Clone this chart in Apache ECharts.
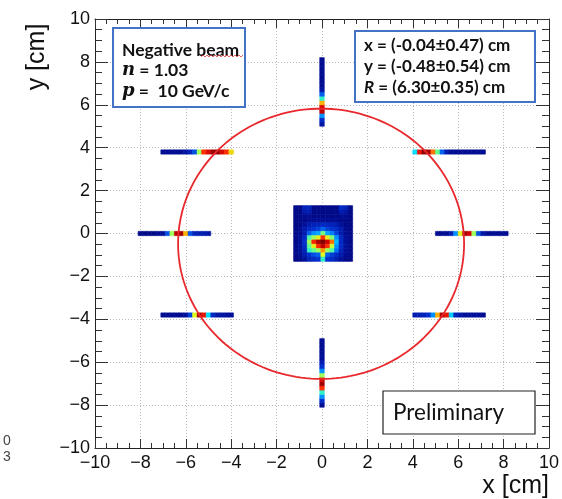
<!DOCTYPE html>
<html>
<head>
<meta charset="utf-8">
<script src="https://cdn.jsdelivr.net/npm/echarts@6/dist/echarts.min.js"></script>
<style>
  html, body { margin: 0; padding: 0; background: #fff; }
  #chart { width: 562px; height: 499px; }
</style>
</head>
<body>
<div id="chart"></div>
<script>
// bin width of the hit map, cm
var BIN = 0.2;

// central beam spot, rows from y = +1.2 down to y = -1.2, columns x = -1.15 ... +1.25
var spotX0 = -1.15;
var spotY0 = 1.2;
var spotRows = [
  [6, 6, 16, 16, 6, 6, 6, 6, 6, 6, 18, 16, 6],
  [6, 6, 14, 14, 6, 6, 6, 6, 6, 6, 14, 12, 6],
  [5, 6, 8, 8, 6, 6, 6, 6, 6, 6, 8, 8, 5],
  [5, 6, 6, 8, 8, 8, 8, 8, 8, 8, 6, 6, 5],
  [5, 6, 10, 14, 16, 16, 18, 16, 16, 14, 10, 6, 5],
  [5, 8, 14, 18, 20, 22, 26, 22, 20, 18, 14, 8, 5],
  [6, 8, 14, 26, 32, 34, 52, 34, 30, 22, 14, 8, 6],
  [6, 10, 18, 48, 55, 62, 80, 62, 52, 32, 18, 10, 6],
  [6, 10, 20, 55, 82, 95, 100, 90, 75, 36, 18, 10, 6],
  [6, 10, 18, 50, 62, 82, 92, 80, 58, 32, 18, 10, 6],
  [6, 10, 16, 45, 50, 55, 72, 55, 48, 28, 16, 10, 6],
  [6, 8, 14, 20, 24, 26, 60, 26, 22, 18, 14, 8, 6],
  [5, 6, 10, 16, 18, 20, 45, 20, 18, 14, 10, 6, 5]
];

// ring detector bars (16 bins each, listed from the first bin centre onward)
var barUpperLeft  = [8, 8, 8, 8, 8, 12, 16, 24, 55, 80, 88, 96, 98, 88, 80, 65];
var barMidLeft    = [6, 6, 6, 6, 8, 10, 24, 55, 92, 96, 70, 24, 16, 14, 14, 12];
var barLowerLeft  = [8, 8, 8, 8, 8, 10, 22, 60, 95, 85, 40, 18, 12, 12, 10, 10];
var barUpperRight = [40, 85, 98, 95, 75, 50, 26, 14, 8, 8, 8, 8, 8, 8, 8, 8];
var barMidRight   = [8, 8, 8, 14, 32, 62, 96, 90, 55, 24, 12, 8, 8, 8, 8, 8];
var barLowerRight = [14, 14, 16, 20, 32, 70, 95, 85, 38, 16, 12, 10, 10, 10, 10, 8];
var barTop        = [12, 18, 32, 92, 88, 70, 45, 26, 12, 8, 8, 8, 8, 8, 8, 8];
var barBottom     = [8, 18, 32, 45, 80, 96, 88, 55, 32, 20, 14, 10, 8, 8, 8, 8];

// first bin centre [x, y] and direction of each bar
var barList = [
  [-7.0, 3.8, "x", barUpperLeft],
  [-8.0, 0.0, "x", barMidLeft],
  [-7.0, -3.8, "x", barLowerLeft],
  [4.1, 3.8, "x", barUpperRight],
  [5.1, 0.0, "x", barMidRight],
  [4.1, -3.8, "x", barLowerRight],
  [0.0, 5.1, "y", barTop],
  [0.0, -8.0, "y", barBottom]
];

// circle fit: centre x, centre y, radius (cm)
var fitCircle = [-0.04, -0.48, 6.30];

var heatColors = ["#000070", "#00109a", "#0030d0", "#0080ff", "#00e0ff", "#60ff90", "#e0ff20", "#ffb000", "#ff3000", "#d00000", "#800000"];

(function () {
  var chart = echarts.init(document.getElementById("chart"), null, { renderer: "canvas" });

  var cells = [];
  spotRows.forEach(function (row, j) {
    row.forEach(function (v, i) {
      cells.push([spotX0 + i * BIN, spotY0 - j * BIN, v]);
    });
  });
  barList.forEach(function (b) {
    b[3].forEach(function (v, i) {
      if (b[2] === "x") cells.push([b[0] + i * BIN, b[1], v]);
      else cells.push([b[0], b[1] + i * BIN, v]);
    });
  });

  function renderBin(params, api) {
    var x = api.value(0), y = api.value(1);
    var p0 = api.coord([x - BIN / 2, y + BIN / 2]);
    var p1 = api.coord([x + BIN / 2, y - BIN / 2]);
    var c = api.visual("color");
    return {
      type: "rect",
      shape: { x: p0[0], y: p0[1], width: p1[0] - p0[0], height: p1[1] - p0[1] },
      style: { fill: c, stroke: c, lineWidth: 0.6 }
    };
  }

  function renderCircle(params, api) {
    var cx = api.value(0), cy = api.value(1), r = api.value(2);
    var pts = [];
    for (var k = 0; k <= 180; k++) {
      var a = (k / 180) * Math.PI * 2;
      pts.push(api.coord([cx + r * Math.cos(a), cy + r * Math.sin(a)]));
    }
    return {
      type: "polyline",
      shape: { points: pts },
      style: { stroke: "#e8282d", lineWidth: 1.8, fill: null }
    };
  }

  var minus = function (v) { return String(v).replace("-", "\u2212"); };
  var font = "Liberation Sans";

  function axisBase(extra) {
    var base = {
      type: "value", min: -10, max: 10, interval: 2,
      axisLine: { show: true, onZero: false, lineStyle: { color: "#222", width: 1 } },
      splitLine: { show: false },
      minorTick: { show: true, splitNumber: 4, length: 5, lineStyle: { color: "#333" } },
      axisTick: { show: true, inside: true, length: 9, lineStyle: { color: "#333" } },
      axisLabel: { show: false }
    };
    return Object.assign(base, extra);
  }

  chart.setOption({
    animation: false,
    backgroundColor: "#fff",
    grid: { left: 95, top: 19, width: 454, height: 429, containLabel: false },
    xAxis: [
      axisBase({
        position: "bottom",
        splitLine: { show: true, lineStyle: { color: "#b8b8b8", type: [1, 2], width: 1 } },
        axisLabel: { show: true, formatter: minus, fontSize: 18, color: "#111", fontFamily: font, margin: 6 }
      }),
      axisBase({ position: "top" })
    ],
    yAxis: [
      axisBase({
        position: "left",
        axisTick: { show: true, inside: true, length: 13, lineStyle: { color: "#333" } },
        minorTick: { show: true, splitNumber: 4, length: 7, lineStyle: { color: "#333" } },
        splitLine: { show: true, lineStyle: { color: "#b8b8b8", type: [1, 2], width: 1 } },
        axisLabel: { show: true, formatter: minus, fontSize: 18, color: "#111", fontFamily: font, margin: 5 }
      }),
      axisBase({
        position: "right",
        axisTick: { show: true, inside: true, length: 13, lineStyle: { color: "#333" } },
        minorTick: { show: true, splitNumber: 4, length: 7, lineStyle: { color: "#333" } }
      })
    ],
    visualMap: {
      show: false, seriesIndex: 0, dimension: 2, min: 0, max: 100,
      inRange: { color: heatColors }
    },
    series: [
      {
        type: "custom", name: "hits", renderItem: renderBin,
        xAxisIndex: 0, yAxisIndex: 0,
        encode: { x: 0, y: 1 }, data: cells, z: 2
      },
      {
        type: "custom", name: "fit", renderItem: renderCircle,
        xAxisIndex: 0, yAxisIndex: 0, clip: true,
        encode: { x: 0, y: 1 }, data: [fitCircle], z: 3
      }
    ],
    graphic: [
      // axis titles
      { type: "text", x: 37, y: 57, rotation: Math.PI / 2,
        style: { text: "y [cm]", font: "25px " + font, fill: "#111", textAlign: "center", textVerticalAlign: "middle" } },
      { type: "text", x: 549, y: 486,
        style: { text: "x [cm]", font: "25px " + font, fill: "#111", textAlign: "right", textVerticalAlign: "middle" } },
      // clipped text at the left edge
      { type: "text", x: 3, y: 434, style: { text: "0", font: "14px " + font, fill: "#444" } },
      { type: "text", x: 3, y: 450, style: { text: "3", font: "14px " + font, fill: "#444" } },
      // beam box
      { type: "rect", z: 10, shape: { x: 113, y: 28, width: 132, height: 79 },
        style: { fill: "#fff", stroke: "#4472c4", lineWidth: 2 } },
      { type: "text", z: 11, x: 122, y: 50,
        style: { text: "Negative beam", font: "bold 17.5px Lato", fill: "#111", textVerticalAlign: "middle" } },
      { type: "polyline", z: 11,
        shape: { points: [[201, 57], [203, 55], [205, 57], [207, 55], [209, 57], [211, 55], [213, 57], [215, 55], [217, 57], [219, 55], [221, 57], [223, 55], [225, 57], [227, 55], [229, 57], [231, 55], [233, 57], [235, 55], [237, 57], [239, 55], [241, 57], [243, 55]] },
        style: { stroke: "#e04040", lineWidth: 0.8, fill: null } },
      { type: "text", z: 11, x: 122, y: 70,
        style: { text: "{i|n} = 1.03", textVerticalAlign: "middle",
          rich: { i: { font: "italic bold 18px 'DejaVu Serif'", fill: "#111" } },
          font: "bold 17.5px Lato", fill: "#111" } },
      { type: "text", z: 11, x: 122, y: 91,
        style: { text: "{i|p} =  10 GeV/c", textVerticalAlign: "middle",
          rich: { i: { font: "italic bold 18px 'DejaVu Serif'", fill: "#111" } },
          font: "bold 17.5px Lato", fill: "#111" } },
      // fit box
      { type: "rect", z: 10, shape: { x: 355, y: 31, width: 180, height: 71 },
        style: { fill: "#fff", stroke: "#4472c4", lineWidth: 2 } },
      { type: "text", z: 11, x: 364, y: 46,
        style: { text: "x = (-0.04\u00b10.47) cm", font: "bold 17px Lato", fill: "#111", textVerticalAlign: "middle" } },
      { type: "text", z: 11, x: 364, y: 67,
        style: { text: "y = (-0.48\u00b10.54) cm", font: "bold 17px Lato", fill: "#111", textVerticalAlign: "middle" } },
      { type: "text", z: 11, x: 364, y: 88,
        style: { text: "{i|R} = (6.30\u00b10.35) cm", textVerticalAlign: "middle",
          rich: { i: { font: "italic bold 17px Lato", fill: "#111" } },
          font: "bold 17px Lato", fill: "#111" } },
      // preliminary box
      { type: "rect", z: 10, shape: { x: 383, y: 391, width: 152, height: 43 },
        style: { fill: "#fff", stroke: "#222", lineWidth: 1.2 } },
      { type: "text", z: 11, x: 393, y: 413,
        style: { text: "Preliminary", font: "22.5px Lato", fill: "#111", textVerticalAlign: "middle" } }
    ]
  });
})();
</script>
</body>
</html>
